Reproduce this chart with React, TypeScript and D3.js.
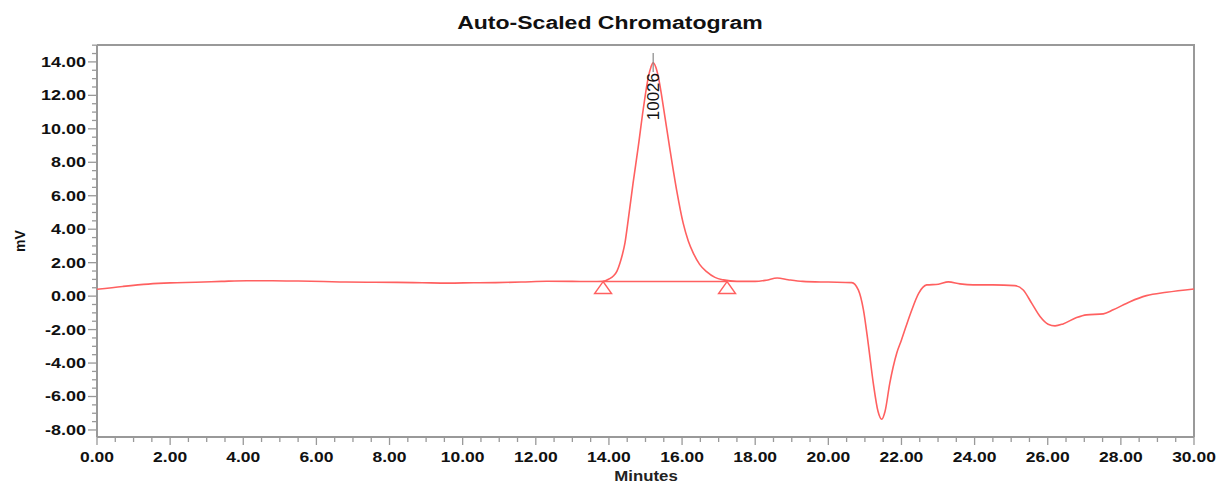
import React, { useEffect, useRef } from 'react';
import * as d3 from 'd3';

// retention time (min) and detector signal (mV)
const times = [
  0, 0.7, 1.4, 2.0, 2.7, 3.4, 4.1, 4.8, 5.5, 6.2, 6.8, 7.5, 8.2, 8.9, 9.6, 10.3, 10.9, 11.6, 12.3, 13.0, 13.5,
  13.84, 14.0, 14.12, 14.22, 14.3, 14.37, 14.44, 14.53, 14.66, 14.8, 14.94, 15.08, 15.15, 15.21, 15.28, 15.35,
  15.44, 15.53, 15.67, 15.85, 16.03, 16.17, 16.31, 16.48, 16.67, 16.9, 17.13, 17.5, 18.0, 18.3, 18.6, 18.9, 19.3,
  20.0, 20.64, 20.82, 20.96, 21.09, 21.23, 21.36, 21.46, 21.55, 21.68, 21.87, 22.0, 22.25, 22.47, 22.69, 23.01,
  23.28, 23.6, 23.96, 24.5, 25.1, 25.33, 25.56, 25.79, 26.01, 26.2, 26.42, 26.79, 27.06, 27.52, 27.79, 28.25,
  28.7, 29.25, 30.0
];
const signal = [
  0.41, 0.58, 0.72, 0.79, 0.83, 0.88, 0.92, 0.92, 0.9, 0.87, 0.84, 0.83, 0.82, 0.8, 0.78, 0.8, 0.81, 0.84, 0.89,
  0.88, 0.87, 0.88, 1.02, 1.2, 1.5, 1.97, 2.5, 3.2, 4.6, 6.75, 8.9, 11.2, 13.12, 13.7, 13.95, 13.7, 13.12, 12.0,
  10.73, 8.74, 6.35, 4.36, 3.3, 2.56, 1.9, 1.46, 1.12, 0.97, 0.88, 0.88, 0.95, 1.08, 0.98, 0.88, 0.84, 0.81, 0.37,
  -0.82, -2.82, -5.21, -6.9, -7.36, -6.9, -5.21, -3.41, -2.62, -1.02, 0.17, 0.67, 0.71, 0.85, 0.73, 0.67, 0.67,
  0.63, 0.37, -0.42, -1.22, -1.68, -1.78, -1.66, -1.28, -1.12, -1.06, -0.82, -0.33, 0.03, 0.23, 0.43
];

// integrated peak: start/end markers, baseline, apex and its label
const peakBounds = [13.84, 17.23];
const peakBaseline = [0.87, 0.87];
const peakApex = 15.21;
const peakLabel = '10026';

const xTicks = [0, 2, 4, 6, 8, 10, 12, 14, 16, 18, 20, 22, 24, 26, 28, 30];
const yTicks = [-8, -6, -4, -2, 0, 2, 4, 6, 8, 10, 12, 14];

const W = 1222;
const H = 483;
const TRACE = '#ff6060';
const AXIS = '#999';
const FONT = 'Liberation Sans, Arial, sans-serif';

const App = () => {
  const rootRef = useRef<SVGSVGElement>(null);

  useEffect(() => {
    const svg = d3.select(rootRef.current);
    svg.selectAll('*').remove();
    svg.attr('width', W).attr('height', H);

    const x = d3.scaleLinear().domain([0, 30]).range([97, 1194]);
    const y = d3.scaleLinear().domain([-8.42, 15.01]).range([437, 45]);

    svg.append('rect').attr('width', W).attr('height', H).attr('fill', '#fff');

    // title
    svg
      .append('text')
      .attr('transform', 'translate(610,22) scale(1.28,1)')
      .attr('text-anchor', 'middle')
      .attr('dominant-baseline', 'central')
      .attr('font-family', FONT)
      .attr('font-weight', 'bold')
      .attr('font-size', 18)
      .attr('fill', '#111')
      .text('Auto-Scaled Chromatogram');

    // frame (top / right)
    svg
      .append('path')
      .attr('d', `M${x(0)},${y.range()[1]}H${x(30)}V${y.range()[0]}`)
      .attr('fill', 'none')
      .attr('stroke', AXIS)
      .attr('stroke-width', 2);

    // y axis
    const yMinor = d3.range(-8, 15.01, 0.5);
    const gy = svg.append('g');
    gy.append('line')
      .attr('x1', x(0)).attr('x2', x(0))
      .attr('y1', y.range()[0]).attr('y2', y.range()[1])
      .attr('stroke', AXIS).attr('stroke-width', 2);
    gy.selectAll('.ym')
      .data(yMinor)
      .enter()
      .append('line')
      .attr('x1', (d: number) => x(0) - (d % 2 === 0 ? 9 : 5))
      .attr('x2', x(0))
      .attr('y1', (d: number) => y(d))
      .attr('y2', (d: number) => y(d))
      .attr('stroke', AXIS)
      .attr('stroke-width', 1.3);
    gy.selectAll('.yl')
      .data(yTicks)
      .enter()
      .append('text')
      .attr('transform', (d: number) => `translate(86,${y(d)}) scale(1.2,1)`)
      .attr('text-anchor', 'end')
      .attr('dominant-baseline', 'central')
      .attr('font-family', FONT)
      .attr('font-weight', 'bold')
      .attr('font-size', 15)
      .attr('fill', '#111')
      .text((d: number) => d.toFixed(2));

    // x axis
    const xMinor = d3.range(0, 30.01, 0.5);
    const gx = svg.append('g');
    gx.append('line')
      .attr('x1', x(0)).attr('x2', x(30))
      .attr('y1', y.range()[0]).attr('y2', y.range()[0])
      .attr('stroke', AXIS).attr('stroke-width', 2);
    gx.selectAll('.xm')
      .data(xMinor)
      .enter()
      .append('line')
      .attr('x1', (d: number) => x(d))
      .attr('x2', (d: number) => x(d))
      .attr('y1', y.range()[0])
      .attr('y2', (d: number) => y.range()[0] + (d % 2 === 0 ? 8 : 5))
      .attr('stroke', AXIS)
      .attr('stroke-width', 1.3);
    gx.selectAll('.xl')
      .data(xTicks)
      .enter()
      .append('text')
      .attr('transform', (d: number) => `translate(${x(d)},457) scale(1.25,1)`)
      .attr('text-anchor', 'middle')
      .attr('dominant-baseline', 'central')
      .attr('font-family', FONT)
      .attr('font-weight', 'bold')
      .attr('font-size', 14)
      .attr('fill', '#111')
      .text((d: number) => d.toFixed(2));

    // axis titles
    svg
      .append('text')
      .attr('transform', 'translate(646,476) scale(1.2,1)')
      .attr('text-anchor', 'middle')
      .attr('dominant-baseline', 'central')
      .attr('font-family', FONT)
      .attr('font-weight', 'bold')
      .attr('font-size', 14)
      .attr('fill', '#222')
      .text('Minutes');
    svg
      .append('text')
      .attr('transform', 'translate(20,241) rotate(-90)')
      .attr('text-anchor', 'middle')
      .attr('dominant-baseline', 'central')
      .attr('font-family', FONT)
      .attr('font-weight', 'bold')
      .attr('font-size', 14)
      .attr('fill', '#111')
      .text('mV');

    // trace
    const pts: [number, number][] = times.map((t, i) => [t, signal[i]]);
    const line = d3
      .line<[number, number]>()
      .x((d) => x(d[0]))
      .y((d) => y(d[1]))
      .curve(d3.curveMonotoneX);
    svg
      .append('path')
      .datum(pts)
      .attr('d', line)
      .attr('fill', 'none')
      .attr('stroke', TRACE)
      .attr('stroke-width', 1.6)
      .attr('stroke-linejoin', 'round');

    // baseline under the peak
    const base: [number, number][] = peakBounds.map((t, i) => [t, peakBaseline[i]]);
    svg
      .append('path')
      .datum(base)
      .attr('d', d3.line<[number, number]>().x((d) => x(d[0])).y((d) => y(d[1])))
      .attr('fill', 'none')
      .attr('stroke', TRACE)
      .attr('stroke-width', 1.4);

    // start / end triangles
    svg
      .selectAll('.tri')
      .data(base)
      .enter()
      .append('path')
      .attr('d', (d: [number, number]) => {
        const cx = x(d[0]);
        const cy = y(d[1]);
        return `M${cx},${cy}L${cx - 8.5},${cy + 12}L${cx + 8.5},${cy + 12}Z`;
      })
      .attr('fill', 'none')
      .attr('stroke', TRACE)
      .attr('stroke-width', 1.4);

    // apex marker + label
    const ax = x(peakApex);
    svg
      .append('line')
      .attr('x1', ax).attr('x2', ax)
      .attr('y1', 53).attr('y2', 72)
      .attr('stroke', '#888')
      .attr('stroke-width', 1.2);
    svg
      .append('text')
      .attr('transform', `translate(${ax},73) rotate(-90)`)
      .attr('text-anchor', 'end')
      .attr('dominant-baseline', 'central')
      .attr('font-family', FONT)
      .attr('font-size', 17)
      .attr('fill', '#111')
      .text(peakLabel);
  }, []);

  return (
    <div style={{ position: 'absolute', left: 0, top: 0, fontSize: 0 }}>
      <svg ref={rootRef}></svg>
    </div>
  );
};

export default App;
